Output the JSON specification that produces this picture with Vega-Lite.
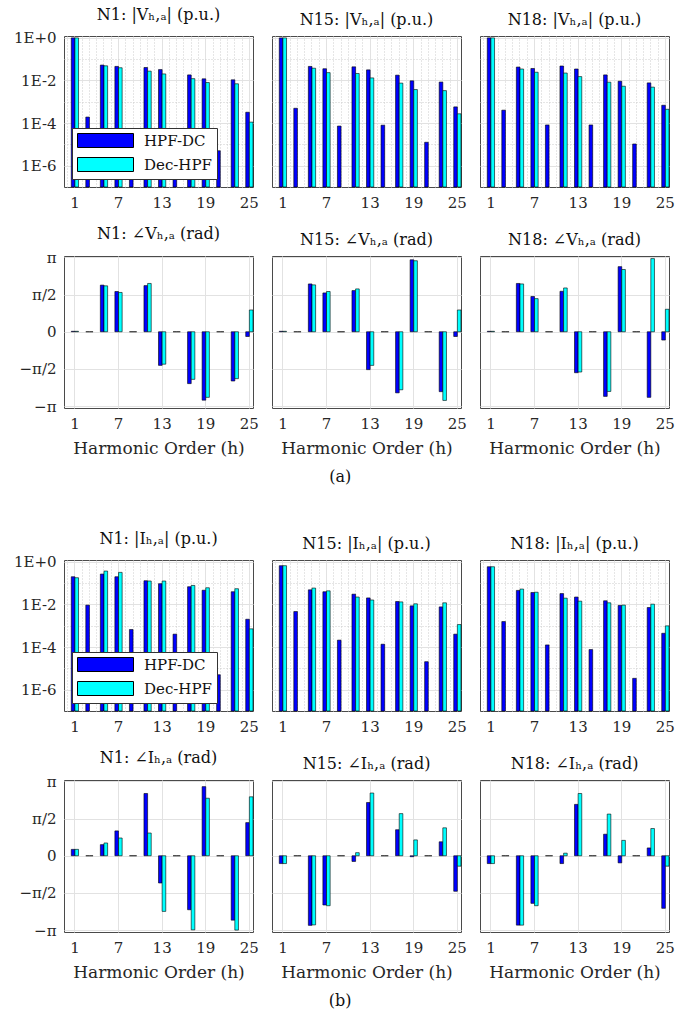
{
"$schema":"https://vega.github.io/schema/vega-lite/v6.json",
"padding":{"left":5,"top":6,"right":2,"bottom":2},
"background":"white",
"datasets":{"d":[
{"n":"N1","q":"Vm","h":1,"HPF-DC":0.98,"Dec-HPF":0.98},
{"n":"N1","q":"Vm","h":3,"HPF-DC":0.00019,"Dec-HPF":0},
{"n":"N1","q":"Vm","h":5,"HPF-DC":0.052,"Dec-HPF":0.048},
{"n":"N1","q":"Vm","h":7,"HPF-DC":0.045,"Dec-HPF":0.039},
{"n":"N1","q":"Vm","h":9,"HPF-DC":0.00001,"Dec-HPF":0},
{"n":"N1","q":"Vm","h":11,"HPF-DC":0.040,"Dec-HPF":0.027},
{"n":"N1","q":"Vm","h":13,"HPF-DC":0.032,"Dec-HPF":0.020},
{"n":"N1","q":"Vm","h":15,"HPF-DC":0.00001,"Dec-HPF":0},
{"n":"N1","q":"Vm","h":17,"HPF-DC":0.018,"Dec-HPF":0.012},
{"n":"N1","q":"Vm","h":19,"HPF-DC":0.0118,"Dec-HPF":0.0079},
{"n":"N1","q":"Vm","h":21,"HPF-DC":0.000005,"Dec-HPF":0},
{"n":"N1","q":"Vm","h":23,"HPF-DC":0.0106,"Dec-HPF":0.0069},
{"n":"N1","q":"Vm","h":25,"HPF-DC":0.00032,"Dec-HPF":0.00011},
{"n":"N15","q":"Vm","h":1,"HPF-DC":0.98,"Dec-HPF":0.98},
{"n":"N15","q":"Vm","h":3,"HPF-DC":0.00049,"Dec-HPF":0},
{"n":"N15","q":"Vm","h":5,"HPF-DC":0.045,"Dec-HPF":0.037},
{"n":"N15","q":"Vm","h":7,"HPF-DC":0.035,"Dec-HPF":0.023},
{"n":"N15","q":"Vm","h":9,"HPF-DC":0.000072,"Dec-HPF":0},
{"n":"N15","q":"Vm","h":11,"HPF-DC":0.043,"Dec-HPF":0.021},
{"n":"N15","q":"Vm","h":13,"HPF-DC":0.031,"Dec-HPF":0.013},
{"n":"N15","q":"Vm","h":15,"HPF-DC":0.000079,"Dec-HPF":0},
{"n":"N15","q":"Vm","h":17,"HPF-DC":0.0175,"Dec-HPF":0.0074},
{"n":"N15","q":"Vm","h":19,"HPF-DC":0.0095,"Dec-HPF":0.0037},
{"n":"N15","q":"Vm","h":21,"HPF-DC":0.0000125,"Dec-HPF":0},
{"n":"N15","q":"Vm","h":23,"HPF-DC":0.0083,"Dec-HPF":0.0033},
{"n":"N15","q":"Vm","h":25,"HPF-DC":0.00057,"Dec-HPF":0.00027},
{"n":"N18","q":"Vm","h":1,"HPF-DC":0.98,"Dec-HPF":0.98},
{"n":"N18","q":"Vm","h":3,"HPF-DC":0.0004,"Dec-HPF":0},
{"n":"N18","q":"Vm","h":5,"HPF-DC":0.042,"Dec-HPF":0.034},
{"n":"N18","q":"Vm","h":7,"HPF-DC":0.036,"Dec-HPF":0.024},
{"n":"N18","q":"Vm","h":9,"HPF-DC":0.000081,"Dec-HPF":0},
{"n":"N18","q":"Vm","h":11,"HPF-DC":0.047,"Dec-HPF":0.022},
{"n":"N18","q":"Vm","h":13,"HPF-DC":0.034,"Dec-HPF":0.015},
{"n":"N18","q":"Vm","h":15,"HPF-DC":0.000081,"Dec-HPF":0},
{"n":"N18","q":"Vm","h":17,"HPF-DC":0.018,"Dec-HPF":0.0082},
{"n":"N18","q":"Vm","h":19,"HPF-DC":0.0091,"Dec-HPF":0.0053},
{"n":"N18","q":"Vm","h":21,"HPF-DC":0.0000104,"Dec-HPF":0},
{"n":"N18","q":"Vm","h":23,"HPF-DC":0.0076,"Dec-HPF":0.0048},
{"n":"N18","q":"Vm","h":25,"HPF-DC":0.00068,"Dec-HPF":0.00044},
{"n":"N1","q":"Va","h":1,"HPF-DC":0.02,"Dec-HPF":0.02},
{"n":"N1","q":"Va","h":3,"HPF-DC":0,"Dec-HPF":0},
{"n":"N1","q":"Va","h":5,"HPF-DC":1.97,"Dec-HPF":1.94},
{"n":"N1","q":"Va","h":7,"HPF-DC":1.70,"Dec-HPF":1.66},
{"n":"N1","q":"Va","h":9,"HPF-DC":0,"Dec-HPF":0},
{"n":"N1","q":"Va","h":11,"HPF-DC":1.95,"Dec-HPF":2.04},
{"n":"N1","q":"Va","h":13,"HPF-DC":-1.42,"Dec-HPF":-1.37},
{"n":"N1","q":"Va","h":15,"HPF-DC":0,"Dec-HPF":0},
{"n":"N1","q":"Va","h":17,"HPF-DC":-2.19,"Dec-HPF":-2.01},
{"n":"N1","q":"Va","h":19,"HPF-DC":-2.89,"Dec-HPF":-2.77},
{"n":"N1","q":"Va","h":21,"HPF-DC":0,"Dec-HPF":0},
{"n":"N1","q":"Va","h":23,"HPF-DC":-2.08,"Dec-HPF":-1.98},
{"n":"N1","q":"Va","h":25,"HPF-DC":-0.2,"Dec-HPF":0.92},
{"n":"N15","q":"Va","h":1,"HPF-DC":0.02,"Dec-HPF":0.02},
{"n":"N15","q":"Va","h":3,"HPF-DC":0,"Dec-HPF":0},
{"n":"N15","q":"Va","h":5,"HPF-DC":2.02,"Dec-HPF":1.98},
{"n":"N15","q":"Va","h":7,"HPF-DC":1.64,"Dec-HPF":1.70},
{"n":"N15","q":"Va","h":9,"HPF-DC":0,"Dec-HPF":0},
{"n":"N15","q":"Va","h":11,"HPF-DC":1.74,"Dec-HPF":1.81},
{"n":"N15","q":"Va","h":13,"HPF-DC":-1.60,"Dec-HPF":-1.42},
{"n":"N15","q":"Va","h":15,"HPF-DC":0,"Dec-HPF":0},
{"n":"N15","q":"Va","h":17,"HPF-DC":-2.58,"Dec-HPF":-2.45},
{"n":"N15","q":"Va","h":19,"HPF-DC":3.04,"Dec-HPF":3.0},
{"n":"N15","q":"Va","h":21,"HPF-DC":0,"Dec-HPF":0},
{"n":"N15","q":"Va","h":23,"HPF-DC":-2.53,"Dec-HPF":-2.9},
{"n":"N15","q":"Va","h":25,"HPF-DC":-0.2,"Dec-HPF":0.92},
{"n":"N18","q":"Va","h":1,"HPF-DC":0.02,"Dec-HPF":0.02},
{"n":"N18","q":"Va","h":3,"HPF-DC":0,"Dec-HPF":0},
{"n":"N18","q":"Va","h":5,"HPF-DC":2.04,"Dec-HPF":2.02},
{"n":"N18","q":"Va","h":7,"HPF-DC":1.49,"Dec-HPF":1.40},
{"n":"N18","q":"Va","h":9,"HPF-DC":0,"Dec-HPF":0},
{"n":"N18","q":"Va","h":11,"HPF-DC":1.71,"Dec-HPF":1.85},
{"n":"N18","q":"Va","h":13,"HPF-DC":-1.73,"Dec-HPF":-1.70},
{"n":"N18","q":"Va","h":15,"HPF-DC":0,"Dec-HPF":0},
{"n":"N18","q":"Va","h":17,"HPF-DC":-2.73,"Dec-HPF":-2.52},
{"n":"N18","q":"Va","h":19,"HPF-DC":2.75,"Dec-HPF":2.63},
{"n":"N18","q":"Va","h":21,"HPF-DC":0,"Dec-HPF":0},
{"n":"N18","q":"Va","h":23,"HPF-DC":-2.77,"Dec-HPF":3.09},
{"n":"N18","q":"Va","h":25,"HPF-DC":-0.35,"Dec-HPF":0.95},
{"n":"N1","q":"Im","h":1,"HPF-DC":0.197,"Dec-HPF":0.177},
{"n":"N1","q":"Im","h":3,"HPF-DC":0.0092,"Dec-HPF":0},
{"n":"N1","q":"Im","h":5,"HPF-DC":0.263,"Dec-HPF":0.364},
{"n":"N1","q":"Im","h":7,"HPF-DC":0.197,"Dec-HPF":0.315},
{"n":"N1","q":"Im","h":9,"HPF-DC":0.00066,"Dec-HPF":0},
{"n":"N1","q":"Im","h":11,"HPF-DC":0.128,"Dec-HPF":0.124},
{"n":"N1","q":"Im","h":13,"HPF-DC":0.093,"Dec-HPF":0.124},
{"n":"N1","q":"Im","h":15,"HPF-DC":0.0004,"Dec-HPF":0},
{"n":"N1","q":"Im","h":17,"HPF-DC":0.067,"Dec-HPF":0.077},
{"n":"N1","q":"Im","h":19,"HPF-DC":0.046,"Dec-HPF":0.060},
{"n":"N1","q":"Im","h":21,"HPF-DC":0.000005,"Dec-HPF":0},
{"n":"N1","q":"Im","h":23,"HPF-DC":0.039,"Dec-HPF":0.054},
{"n":"N1","q":"Im","h":25,"HPF-DC":0.002,"Dec-HPF":0.00071},
{"n":"N15","q":"Im","h":1,"HPF-DC":0.65,"Dec-HPF":0.65},
{"n":"N15","q":"Im","h":3,"HPF-DC":0.0046,"Dec-HPF":0},
{"n":"N15","q":"Im","h":5,"HPF-DC":0.048,"Dec-HPF":0.058},
{"n":"N15","q":"Im","h":7,"HPF-DC":0.039,"Dec-HPF":0.043},
{"n":"N15","q":"Im","h":9,"HPF-DC":0.00021,"Dec-HPF":0},
{"n":"N15","q":"Im","h":11,"HPF-DC":0.030,"Dec-HPF":0.022},
{"n":"N15","q":"Im","h":13,"HPF-DC":0.020,"Dec-HPF":0.016},
{"n":"N15","q":"Im","h":15,"HPF-DC":0.000135,"Dec-HPF":0},
{"n":"N15","q":"Im","h":17,"HPF-DC":0.0136,"Dec-HPF":0.013},
{"n":"N15","q":"Im","h":19,"HPF-DC":0.0085,"Dec-HPF":0.0106},
{"n":"N15","q":"Im","h":21,"HPF-DC":0.0000205,"Dec-HPF":0},
{"n":"N15","q":"Im","h":23,"HPF-DC":0.0076,"Dec-HPF":0.0118},
{"n":"N15","q":"Im","h":25,"HPF-DC":0.0004,"Dec-HPF":0.00113},
{"n":"N18","q":"Im","h":1,"HPF-DC":0.58,"Dec-HPF":0.58},
{"n":"N18","q":"Im","h":3,"HPF-DC":0.00156,"Dec-HPF":0},
{"n":"N18","q":"Im","h":5,"HPF-DC":0.045,"Dec-HPF":0.052},
{"n":"N18","q":"Im","h":7,"HPF-DC":0.036,"Dec-HPF":0.037},
{"n":"N18","q":"Im","h":9,"HPF-DC":0.000125,"Dec-HPF":0},
{"n":"N18","q":"Im","h":11,"HPF-DC":0.032,"Dec-HPF":0.0195},
{"n":"N18","q":"Im","h":13,"HPF-DC":0.022,"Dec-HPF":0.0141},
{"n":"N18","q":"Im","h":15,"HPF-DC":0.000076,"Dec-HPF":0},
{"n":"N18","q":"Im","h":17,"HPF-DC":0.0147,"Dec-HPF":0.0118},
{"n":"N18","q":"Im","h":19,"HPF-DC":0.0089,"Dec-HPF":0.0092},
{"n":"N18","q":"Im","h":21,"HPF-DC":0.0000034,"Dec-HPF":0},
{"n":"N18","q":"Im","h":23,"HPF-DC":0.0071,"Dec-HPF":0.0102},
{"n":"N18","q":"Im","h":25,"HPF-DC":0.00044,"Dec-HPF":0.00098},
{"n":"N1","q":"Ia","h":1,"HPF-DC":0.27,"Dec-HPF":0.27},
{"n":"N1","q":"Ia","h":3,"HPF-DC":0,"Dec-HPF":0},
{"n":"N1","q":"Ia","h":5,"HPF-DC":0.47,"Dec-HPF":0.54},
{"n":"N1","q":"Ia","h":7,"HPF-DC":1.05,"Dec-HPF":0.75},
{"n":"N1","q":"Ia","h":9,"HPF-DC":0,"Dec-HPF":0},
{"n":"N1","q":"Ia","h":11,"HPF-DC":2.63,"Dec-HPF":0.96},
{"n":"N1","q":"Ia","h":13,"HPF-DC":-1.15,"Dec-HPF":-2.35},
{"n":"N1","q":"Ia","h":15,"HPF-DC":0,"Dec-HPF":0},
{"n":"N1","q":"Ia","h":17,"HPF-DC":-2.28,"Dec-HPF":-3.13},
{"n":"N1","q":"Ia","h":19,"HPF-DC":2.92,"Dec-HPF":2.43},
{"n":"N1","q":"Ia","h":21,"HPF-DC":0,"Dec-HPF":0},
{"n":"N1","q":"Ia","h":23,"HPF-DC":-2.72,"Dec-HPF":-3.14},
{"n":"N1","q":"Ia","h":25,"HPF-DC":1.40,"Dec-HPF":2.49},
{"n":"N15","q":"Ia","h":1,"HPF-DC":-0.33,"Dec-HPF":-0.33},
{"n":"N15","q":"Ia","h":3,"HPF-DC":0,"Dec-HPF":0},
{"n":"N15","q":"Ia","h":5,"HPF-DC":-2.94,"Dec-HPF":-2.92},
{"n":"N15","q":"Ia","h":7,"HPF-DC":-2.08,"Dec-HPF":-2.11},
{"n":"N15","q":"Ia","h":9,"HPF-DC":0,"Dec-HPF":0},
{"n":"N15","q":"Ia","h":11,"HPF-DC":-0.24,"Dec-HPF":0.13},
{"n":"N15","q":"Ia","h":13,"HPF-DC":2.25,"Dec-HPF":2.65},
{"n":"N15","q":"Ia","h":15,"HPF-DC":0,"Dec-HPF":0},
{"n":"N15","q":"Ia","h":17,"HPF-DC":1.10,"Dec-HPF":1.78},
{"n":"N15","q":"Ia","h":19,"HPF-DC":-0.04,"Dec-HPF":0.67},
{"n":"N15","q":"Ia","h":21,"HPF-DC":0,"Dec-HPF":0},
{"n":"N15","q":"Ia","h":23,"HPF-DC":0.59,"Dec-HPF":1.18},
{"n":"N15","q":"Ia","h":25,"HPF-DC":-1.50,"Dec-HPF":-0.44},
{"n":"N18","q":"Ia","h":1,"HPF-DC":-0.33,"Dec-HPF":-0.33},
{"n":"N18","q":"Ia","h":3,"HPF-DC":0,"Dec-HPF":0},
{"n":"N18","q":"Ia","h":5,"HPF-DC":-2.93,"Dec-HPF":-2.93},
{"n":"N18","q":"Ia","h":7,"HPF-DC":-2.01,"Dec-HPF":-2.11},
{"n":"N18","q":"Ia","h":9,"HPF-DC":0,"Dec-HPF":0},
{"n":"N18","q":"Ia","h":11,"HPF-DC":-0.33,"Dec-HPF":0.11},
{"n":"N18","q":"Ia","h":13,"HPF-DC":2.17,"Dec-HPF":2.63},
{"n":"N18","q":"Ia","h":15,"HPF-DC":0,"Dec-HPF":0},
{"n":"N18","q":"Ia","h":17,"HPF-DC":0.91,"Dec-HPF":1.76},
{"n":"N18","q":"Ia","h":19,"HPF-DC":-0.30,"Dec-HPF":0.65},
{"n":"N18","q":"Ia","h":21,"HPF-DC":0,"Dec-HPF":0},
{"n":"N18","q":"Ia","h":23,"HPF-DC":0.33,"Dec-HPF":1.15},
{"n":"N18","q":"Ia","h":25,"HPF-DC":-2.22,"Dec-HPF":-0.44}
]},
"config":{
 "font":"DejaVu Serif",
 "view":{"stroke":"#4a4a4a","strokeWidth":1},
 "axis":{"labelFont":"DejaVu Serif","labelFontSize":15,"labelColor":"#262626","titleFont":"DejaVu Serif","titleFontSize":17,"titleFontWeight":"normal","titleColor":"#262626","gridColor":"#e2e2e2","gridWidth":1,"domain":false,"ticks":false,"labelPadding":8,"titlePadding":9},
 "title":{"font":"DejaVu Serif","fontSize":16,"fontWeight":"normal","color":"#111111","offset":8},
 "legend":{"title":null,"orient":"bottom-left","offset":8,"symbolType":"M-1,-1H7V1H-1Z","symbolSize":196,"symbolStrokeColor":"#000000","symbolStrokeWidth":1,"symbolOpacity":1,"labelFont":"DejaVu Serif","labelFontSize":15,"labelColor":"#111111","labelOffset":52,"fillColor":"#ffffff","strokeColor":"#333333","padding":5,"rowPadding":5}
},
"resolve":{"scale":{"color":"independent"},"legend":{"color":"independent"}},
"spacing":45,
"vconcat":[
{"title":{"text":"(a)","orient":"bottom","anchor":"middle","fontSize":16,"offset":12},
 "resolve":{"scale":{"color":"independent"},"legend":{"color":"independent"}},
 "spacing":14,
 "vconcat":[
 {"hconcat":[
  {"width":189,"height":151,"title":"N1: |Vₕ,ₐ| (p.u.)","data":{"name":"d"},
   "transform":[{"fold":["HPF-DC","Dec-HPF"],"as":["m","v"]},{"filter":"datum.n==='N1' && datum.q==='Vm' && datum.v>0"}],
   "resolve":{"axis":{"x":"independent","y":"independent"}},
   "layer":[
    {"mark":{"type":"bar","opacity":0},"encoding":{
      "x":{"field":"h","type":"ordinal","axis":{"orient":"bottom","values":[0,2,3,4,5,6,8,9,10,11,12,14,15,16,17,18,20,21,22,23,24],"bandPosition":0.5,"labels":false,"title":null,"grid":true,"gridDash":[1,2],"gridColor":"#cccccc"}},
      "xOffset":{"field":"m","type":"nominal"},
      "y":{"field":"v","type":"quantitative","scale":{"type":"log","domain":[1e-7,1.2],"nice":false},"axis":{"orient":"left","values":[0.1,0.001,0.00001],"labels":false,"title":null,"grid":true,"gridDash":[1,2],"gridColor":"#cccccc"}},
      "y2":{"datum":1e-7}}},
    {"mark":{"type":"bar","stroke":"#000000","strokeWidth":0.6},"encoding":{
      "x":{"field":"h","type":"ordinal","scale":{"domain":[0,1,2,3,4,5,6,7,8,9,10,11,12,13,14,15,16,17,18,19,20,21,22,23,24,25],"paddingInner":0,"paddingOuter":0},"axis":{"orient":"bottom","values":[1,7,13,19,25],"labelAngle":0,"bandPosition":0.5,"title":null,"grid":true}},
      "xOffset":{"field":"m","type":"nominal","scale":{"domain":["HPF-DC","Dec-HPF"],"paddingInner":0,"paddingOuter":0}},
      "y":{"field":"v","type":"quantitative","scale":{"type":"log","domain":[1e-7,1.2],"nice":false},"axis":{"orient":"left","values":[1,0.01,0.0001,0.000001],"labelExpr":"datum.value > 0.5 ? '1E+0' : datum.value > 0.005 ? '1E-2' : datum.value > 0.00005 ? '1E-4' : '1E-6'","title":null,"grid":true,"minExtent":58,"maxExtent":58}},
      "y2":{"datum":1e-7},
      "color":{"field":"m","type":"nominal","scale":{"domain":["HPF-DC","Dec-HPF"],"range":["#0000ff","#00ffff"]},"legend":{}}}}
   ]},
  {"width":189,"height":151,"title":"N15: |Vₕ,ₐ| (p.u.)","data":{"name":"d"},
   "transform":[{"fold":["HPF-DC","Dec-HPF"],"as":["m","v"]},{"filter":"datum.n==='N15' && datum.q==='Vm' && datum.v>0"}],
   "resolve":{"axis":{"x":"independent","y":"independent"}},
   "layer":[
    {"mark":{"type":"bar","opacity":0},"encoding":{
      "x":{"field":"h","type":"ordinal","axis":{"orient":"bottom","values":[0,2,3,4,5,6,8,9,10,11,12,14,15,16,17,18,20,21,22,23,24],"bandPosition":0.5,"labels":false,"title":null,"grid":true,"gridDash":[1,2],"gridColor":"#cccccc"}},
      "xOffset":{"field":"m","type":"nominal"},
      "y":{"field":"v","type":"quantitative","scale":{"type":"log","domain":[1e-7,1.2],"nice":false},"axis":{"orient":"left","values":[0.1,0.001,0.00001],"labels":false,"title":null,"grid":true,"gridDash":[1,2],"gridColor":"#cccccc"}},
      "y2":{"datum":1e-7}}},
    {"mark":{"type":"bar","stroke":"#000000","strokeWidth":0.6},"encoding":{
      "x":{"field":"h","type":"ordinal","scale":{"domain":[0,1,2,3,4,5,6,7,8,9,10,11,12,13,14,15,16,17,18,19,20,21,22,23,24,25],"paddingInner":0,"paddingOuter":0},"axis":{"orient":"bottom","values":[1,7,13,19,25],"labelAngle":0,"bandPosition":0.5,"title":null,"grid":true}},
      "xOffset":{"field":"m","type":"nominal","scale":{"domain":["HPF-DC","Dec-HPF"],"paddingInner":0,"paddingOuter":0}},
      "y":{"field":"v","type":"quantitative","scale":{"type":"log","domain":[1e-7,1.2],"nice":false},"axis":{"orient":"left","values":[1,0.01,0.0001,0.000001],"labels":false,"title":null,"grid":true}},
      "y2":{"datum":1e-7},
      "color":{"field":"m","type":"nominal","scale":{"domain":["HPF-DC","Dec-HPF"],"range":["#0000ff","#00ffff"]},"legend":null}}}
   ]},
  {"width":189,"height":151,"title":"N18: |Vₕ,ₐ| (p.u.)","data":{"name":"d"},
   "transform":[{"fold":["HPF-DC","Dec-HPF"],"as":["m","v"]},{"filter":"datum.n==='N18' && datum.q==='Vm' && datum.v>0"}],
   "resolve":{"axis":{"x":"independent","y":"independent"}},
   "layer":[
    {"mark":{"type":"bar","opacity":0},"encoding":{
      "x":{"field":"h","type":"ordinal","axis":{"orient":"bottom","values":[0,2,3,4,5,6,8,9,10,11,12,14,15,16,17,18,20,21,22,23,24],"bandPosition":0.5,"labels":false,"title":null,"grid":true,"gridDash":[1,2],"gridColor":"#cccccc"}},
      "xOffset":{"field":"m","type":"nominal"},
      "y":{"field":"v","type":"quantitative","scale":{"type":"log","domain":[1e-7,1.2],"nice":false},"axis":{"orient":"left","values":[0.1,0.001,0.00001],"labels":false,"title":null,"grid":true,"gridDash":[1,2],"gridColor":"#cccccc"}},
      "y2":{"datum":1e-7}}},
    {"mark":{"type":"bar","stroke":"#000000","strokeWidth":0.6},"encoding":{
      "x":{"field":"h","type":"ordinal","scale":{"domain":[0,1,2,3,4,5,6,7,8,9,10,11,12,13,14,15,16,17,18,19,20,21,22,23,24,25],"paddingInner":0,"paddingOuter":0},"axis":{"orient":"bottom","values":[1,7,13,19,25],"labelAngle":0,"bandPosition":0.5,"title":null,"grid":true}},
      "xOffset":{"field":"m","type":"nominal","scale":{"domain":["HPF-DC","Dec-HPF"],"paddingInner":0,"paddingOuter":0}},
      "y":{"field":"v","type":"quantitative","scale":{"type":"log","domain":[1e-7,1.2],"nice":false},"axis":{"orient":"left","values":[1,0.01,0.0001,0.000001],"labels":false,"title":null,"grid":true}},
      "y2":{"datum":1e-7},
      "color":{"field":"m","type":"nominal","scale":{"domain":["HPF-DC","Dec-HPF"],"range":["#0000ff","#00ffff"]},"legend":null}}}
   ]}
 ],"spacing":19,"bounds":"flush","resolve":{"scale":{"color":"independent"},"legend":{"color":"independent"}}},
 {"hconcat":[
  {"width":189,"height":152,"title":"N1: ∠Vₕ,ₐ (rad)","data":{"name":"d"},
   "transform":[{"fold":["HPF-DC","Dec-HPF"],"as":["m","v"]},{"filter":"datum.n==='N1' && datum.q==='Va'"}],
   "mark":{"type":"bar","stroke":"#000000","strokeWidth":0.6},
   "encoding":{
    "x":{"field":"h","type":"ordinal","scale":{"domain":[0,1,2,3,4,5,6,7,8,9,10,11,12,13,14,15,16,17,18,19,20,21,22,23,24,25],"paddingInner":0,"paddingOuter":0},"axis":{"values":[1,7,13,19,25],"labelAngle":0,"bandPosition":0.5,"title":"Harmonic Order (h)","grid":true}},
    "xOffset":{"field":"m","type":"nominal","scale":{"domain":["HPF-DC","Dec-HPF"],"paddingInner":0,"paddingOuter":0}},
    "y":{"field":"v","type":"quantitative","scale":{"domain":[-3.22,3.2],"nice":false},"axis":{"values":[-3.14159,-1.5708,0,1.5708,3.14159],"labelExpr":"datum.value > 3 ? 'π' : datum.value > 1 ? 'π/2' : datum.value < -3 ? '−π' : datum.value < -1 ? '−π/2' : '0'","title":null,"grid":true,"minExtent":58,"maxExtent":58}},
    "color":{"field":"m","type":"nominal","scale":{"domain":["HPF-DC","Dec-HPF"],"range":["#0000ff","#00ffff"]},"legend":null}}},
  {"width":189,"height":152,"title":"N15: ∠Vₕ,ₐ (rad)","data":{"name":"d"},
   "transform":[{"fold":["HPF-DC","Dec-HPF"],"as":["m","v"]},{"filter":"datum.n==='N15' && datum.q==='Va'"}],
   "mark":{"type":"bar","stroke":"#000000","strokeWidth":0.6},
   "encoding":{
    "x":{"field":"h","type":"ordinal","scale":{"domain":[0,1,2,3,4,5,6,7,8,9,10,11,12,13,14,15,16,17,18,19,20,21,22,23,24,25],"paddingInner":0,"paddingOuter":0},"axis":{"values":[1,7,13,19,25],"labelAngle":0,"bandPosition":0.5,"title":"Harmonic Order (h)","grid":true}},
    "xOffset":{"field":"m","type":"nominal","scale":{"domain":["HPF-DC","Dec-HPF"],"paddingInner":0,"paddingOuter":0}},
    "y":{"field":"v","type":"quantitative","scale":{"domain":[-3.22,3.2],"nice":false},"axis":{"values":[-3.14159,-1.5708,0,1.5708,3.14159],"labels":false,"title":null,"grid":true}},
    "color":{"field":"m","type":"nominal","scale":{"domain":["HPF-DC","Dec-HPF"],"range":["#0000ff","#00ffff"]},"legend":null}}},
  {"width":189,"height":152,"title":"N18: ∠Vₕ,ₐ (rad)","data":{"name":"d"},
   "transform":[{"fold":["HPF-DC","Dec-HPF"],"as":["m","v"]},{"filter":"datum.n==='N18' && datum.q==='Va'"}],
   "mark":{"type":"bar","stroke":"#000000","strokeWidth":0.6},
   "encoding":{
    "x":{"field":"h","type":"ordinal","scale":{"domain":[0,1,2,3,4,5,6,7,8,9,10,11,12,13,14,15,16,17,18,19,20,21,22,23,24,25],"paddingInner":0,"paddingOuter":0},"axis":{"values":[1,7,13,19,25],"labelAngle":0,"bandPosition":0.5,"title":"Harmonic Order (h)","grid":true}},
    "xOffset":{"field":"m","type":"nominal","scale":{"domain":["HPF-DC","Dec-HPF"],"paddingInner":0,"paddingOuter":0}},
    "y":{"field":"v","type":"quantitative","scale":{"domain":[-3.22,3.2],"nice":false},"axis":{"values":[-3.14159,-1.5708,0,1.5708,3.14159],"labels":false,"title":null,"grid":true}},
    "color":{"field":"m","type":"nominal","scale":{"domain":["HPF-DC","Dec-HPF"],"range":["#0000ff","#00ffff"]},"legend":null}}}
 ],"spacing":19,"bounds":"flush","resolve":{"scale":{"color":"independent"},"legend":{"color":"independent"}}}
 ]},
{"title":{"text":"(b)","orient":"bottom","anchor":"middle","fontSize":16,"offset":12},
 "resolve":{"scale":{"color":"independent"},"legend":{"color":"independent"}},
 "spacing":14,
 "vconcat":[
 {"hconcat":[
  {"width":189,"height":151,"title":"N1: |Iₕ,ₐ| (p.u.)","data":{"name":"d"},
   "transform":[{"fold":["HPF-DC","Dec-HPF"],"as":["m","v"]},{"filter":"datum.n==='N1' && datum.q==='Im' && datum.v>0"}],
   "resolve":{"axis":{"x":"independent","y":"independent"}},
   "layer":[
    {"mark":{"type":"bar","opacity":0},"encoding":{
      "x":{"field":"h","type":"ordinal","axis":{"orient":"bottom","values":[0,2,3,4,5,6,8,9,10,11,12,14,15,16,17,18,20,21,22,23,24],"bandPosition":0.5,"labels":false,"title":null,"grid":true,"gridDash":[1,2],"gridColor":"#cccccc"}},
      "xOffset":{"field":"m","type":"nominal"},
      "y":{"field":"v","type":"quantitative","scale":{"type":"log","domain":[1e-7,1.2],"nice":false},"axis":{"orient":"left","values":[0.1,0.001,0.00001],"labels":false,"title":null,"grid":true,"gridDash":[1,2],"gridColor":"#cccccc"}},
      "y2":{"datum":1e-7}}},
    {"mark":{"type":"bar","stroke":"#000000","strokeWidth":0.6},"encoding":{
      "x":{"field":"h","type":"ordinal","scale":{"domain":[0,1,2,3,4,5,6,7,8,9,10,11,12,13,14,15,16,17,18,19,20,21,22,23,24,25],"paddingInner":0,"paddingOuter":0},"axis":{"orient":"bottom","values":[1,7,13,19,25],"labelAngle":0,"bandPosition":0.5,"title":null,"grid":true}},
      "xOffset":{"field":"m","type":"nominal","scale":{"domain":["HPF-DC","Dec-HPF"],"paddingInner":0,"paddingOuter":0}},
      "y":{"field":"v","type":"quantitative","scale":{"type":"log","domain":[1e-7,1.2],"nice":false},"axis":{"orient":"left","values":[1,0.01,0.0001,0.000001],"labelExpr":"datum.value > 0.5 ? '1E+0' : datum.value > 0.005 ? '1E-2' : datum.value > 0.00005 ? '1E-4' : '1E-6'","title":null,"grid":true,"minExtent":58,"maxExtent":58}},
      "y2":{"datum":1e-7},
      "color":{"field":"m","type":"nominal","scale":{"domain":["HPF-DC","Dec-HPF"],"range":["#0000ff","#00ffff"]},"legend":{}}}}
   ]},
  {"width":189,"height":151,"title":"N15: |Iₕ,ₐ| (p.u.)","data":{"name":"d"},
   "transform":[{"fold":["HPF-DC","Dec-HPF"],"as":["m","v"]},{"filter":"datum.n==='N15' && datum.q==='Im' && datum.v>0"}],
   "resolve":{"axis":{"x":"independent","y":"independent"}},
   "layer":[
    {"mark":{"type":"bar","opacity":0},"encoding":{
      "x":{"field":"h","type":"ordinal","axis":{"orient":"bottom","values":[0,2,3,4,5,6,8,9,10,11,12,14,15,16,17,18,20,21,22,23,24],"bandPosition":0.5,"labels":false,"title":null,"grid":true,"gridDash":[1,2],"gridColor":"#cccccc"}},
      "xOffset":{"field":"m","type":"nominal"},
      "y":{"field":"v","type":"quantitative","scale":{"type":"log","domain":[1e-7,1.2],"nice":false},"axis":{"orient":"left","values":[0.1,0.001,0.00001],"labels":false,"title":null,"grid":true,"gridDash":[1,2],"gridColor":"#cccccc"}},
      "y2":{"datum":1e-7}}},
    {"mark":{"type":"bar","stroke":"#000000","strokeWidth":0.6},"encoding":{
      "x":{"field":"h","type":"ordinal","scale":{"domain":[0,1,2,3,4,5,6,7,8,9,10,11,12,13,14,15,16,17,18,19,20,21,22,23,24,25],"paddingInner":0,"paddingOuter":0},"axis":{"orient":"bottom","values":[1,7,13,19,25],"labelAngle":0,"bandPosition":0.5,"title":null,"grid":true}},
      "xOffset":{"field":"m","type":"nominal","scale":{"domain":["HPF-DC","Dec-HPF"],"paddingInner":0,"paddingOuter":0}},
      "y":{"field":"v","type":"quantitative","scale":{"type":"log","domain":[1e-7,1.2],"nice":false},"axis":{"orient":"left","values":[1,0.01,0.0001,0.000001],"labels":false,"title":null,"grid":true}},
      "y2":{"datum":1e-7},
      "color":{"field":"m","type":"nominal","scale":{"domain":["HPF-DC","Dec-HPF"],"range":["#0000ff","#00ffff"]},"legend":null}}}
   ]},
  {"width":189,"height":151,"title":"N18: |Iₕ,ₐ| (p.u.)","data":{"name":"d"},
   "transform":[{"fold":["HPF-DC","Dec-HPF"],"as":["m","v"]},{"filter":"datum.n==='N18' && datum.q==='Im' && datum.v>0"}],
   "resolve":{"axis":{"x":"independent","y":"independent"}},
   "layer":[
    {"mark":{"type":"bar","opacity":0},"encoding":{
      "x":{"field":"h","type":"ordinal","axis":{"orient":"bottom","values":[0,2,3,4,5,6,8,9,10,11,12,14,15,16,17,18,20,21,22,23,24],"bandPosition":0.5,"labels":false,"title":null,"grid":true,"gridDash":[1,2],"gridColor":"#cccccc"}},
      "xOffset":{"field":"m","type":"nominal"},
      "y":{"field":"v","type":"quantitative","scale":{"type":"log","domain":[1e-7,1.2],"nice":false},"axis":{"orient":"left","values":[0.1,0.001,0.00001],"labels":false,"title":null,"grid":true,"gridDash":[1,2],"gridColor":"#cccccc"}},
      "y2":{"datum":1e-7}}},
    {"mark":{"type":"bar","stroke":"#000000","strokeWidth":0.6},"encoding":{
      "x":{"field":"h","type":"ordinal","scale":{"domain":[0,1,2,3,4,5,6,7,8,9,10,11,12,13,14,15,16,17,18,19,20,21,22,23,24,25],"paddingInner":0,"paddingOuter":0},"axis":{"orient":"bottom","values":[1,7,13,19,25],"labelAngle":0,"bandPosition":0.5,"title":null,"grid":true}},
      "xOffset":{"field":"m","type":"nominal","scale":{"domain":["HPF-DC","Dec-HPF"],"paddingInner":0,"paddingOuter":0}},
      "y":{"field":"v","type":"quantitative","scale":{"type":"log","domain":[1e-7,1.2],"nice":false},"axis":{"orient":"left","values":[1,0.01,0.0001,0.000001],"labels":false,"title":null,"grid":true}},
      "y2":{"datum":1e-7},
      "color":{"field":"m","type":"nominal","scale":{"domain":["HPF-DC","Dec-HPF"],"range":["#0000ff","#00ffff"]},"legend":null}}}
   ]}
 ],"spacing":19,"bounds":"flush","resolve":{"scale":{"color":"independent"},"legend":{"color":"independent"}}},
 {"hconcat":[
  {"width":189,"height":152,"title":"N1: ∠Iₕ,ₐ (rad)","data":{"name":"d"},
   "transform":[{"fold":["HPF-DC","Dec-HPF"],"as":["m","v"]},{"filter":"datum.n==='N1' && datum.q==='Ia'"}],
   "mark":{"type":"bar","stroke":"#000000","strokeWidth":0.6},
   "encoding":{
    "x":{"field":"h","type":"ordinal","scale":{"domain":[0,1,2,3,4,5,6,7,8,9,10,11,12,13,14,15,16,17,18,19,20,21,22,23,24,25],"paddingInner":0,"paddingOuter":0},"axis":{"values":[1,7,13,19,25],"labelAngle":0,"bandPosition":0.5,"title":"Harmonic Order (h)","grid":true}},
    "xOffset":{"field":"m","type":"nominal","scale":{"domain":["HPF-DC","Dec-HPF"],"paddingInner":0,"paddingOuter":0}},
    "y":{"field":"v","type":"quantitative","scale":{"domain":[-3.22,3.2],"nice":false},"axis":{"values":[-3.14159,-1.5708,0,1.5708,3.14159],"labelExpr":"datum.value > 3 ? 'π' : datum.value > 1 ? 'π/2' : datum.value < -3 ? '−π' : datum.value < -1 ? '−π/2' : '0'","title":null,"grid":true,"minExtent":58,"maxExtent":58}},
    "color":{"field":"m","type":"nominal","scale":{"domain":["HPF-DC","Dec-HPF"],"range":["#0000ff","#00ffff"]},"legend":null}}},
  {"width":189,"height":152,"title":"N15: ∠Iₕ,ₐ (rad)","data":{"name":"d"},
   "transform":[{"fold":["HPF-DC","Dec-HPF"],"as":["m","v"]},{"filter":"datum.n==='N15' && datum.q==='Ia'"}],
   "mark":{"type":"bar","stroke":"#000000","strokeWidth":0.6},
   "encoding":{
    "x":{"field":"h","type":"ordinal","scale":{"domain":[0,1,2,3,4,5,6,7,8,9,10,11,12,13,14,15,16,17,18,19,20,21,22,23,24,25],"paddingInner":0,"paddingOuter":0},"axis":{"values":[1,7,13,19,25],"labelAngle":0,"bandPosition":0.5,"title":"Harmonic Order (h)","grid":true}},
    "xOffset":{"field":"m","type":"nominal","scale":{"domain":["HPF-DC","Dec-HPF"],"paddingInner":0,"paddingOuter":0}},
    "y":{"field":"v","type":"quantitative","scale":{"domain":[-3.22,3.2],"nice":false},"axis":{"values":[-3.14159,-1.5708,0,1.5708,3.14159],"labels":false,"title":null,"grid":true}},
    "color":{"field":"m","type":"nominal","scale":{"domain":["HPF-DC","Dec-HPF"],"range":["#0000ff","#00ffff"]},"legend":null}}},
  {"width":189,"height":152,"title":"N18: ∠Iₕ,ₐ (rad)","data":{"name":"d"},
   "transform":[{"fold":["HPF-DC","Dec-HPF"],"as":["m","v"]},{"filter":"datum.n==='N18' && datum.q==='Ia'"}],
   "mark":{"type":"bar","stroke":"#000000","strokeWidth":0.6},
   "encoding":{
    "x":{"field":"h","type":"ordinal","scale":{"domain":[0,1,2,3,4,5,6,7,8,9,10,11,12,13,14,15,16,17,18,19,20,21,22,23,24,25],"paddingInner":0,"paddingOuter":0},"axis":{"values":[1,7,13,19,25],"labelAngle":0,"bandPosition":0.5,"title":"Harmonic Order (h)","grid":true}},
    "xOffset":{"field":"m","type":"nominal","scale":{"domain":["HPF-DC","Dec-HPF"],"paddingInner":0,"paddingOuter":0}},
    "y":{"field":"v","type":"quantitative","scale":{"domain":[-3.22,3.2],"nice":false},"axis":{"values":[-3.14159,-1.5708,0,1.5708,3.14159],"labels":false,"title":null,"grid":true}},
    "color":{"field":"m","type":"nominal","scale":{"domain":["HPF-DC","Dec-HPF"],"range":["#0000ff","#00ffff"]},"legend":null}}}
 ],"spacing":19,"bounds":"flush","resolve":{"scale":{"color":"independent"},"legend":{"color":"independent"}}}
 ]}
]
}
